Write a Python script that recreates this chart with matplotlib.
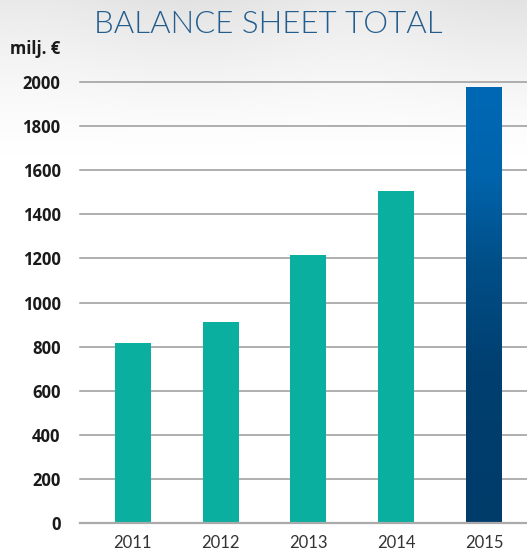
import numpy as np
import matplotlib.pyplot as plt
from matplotlib.colors import LinearSegmentedColormap

# data
years = ["2011", "2012", "2013", "2014", "2015"]
totals = [815, 910, 1215, 1505, 1980]
yticks = [0, 200, 400, 600, 800, 1000, 1200, 1400, 1600, 1800, 2000]

TEAL = "#0aaf9f"
TITLE_BLUE = "#235d8d"
GRID = "#9a9a9a"

fig = plt.figure(figsize=(5.27, 5.54), dpi=100)

# faint grey wash at the top, like the photo behind the original
bg = fig.add_axes([0, 0, 1, 1], zorder=-10)
h = np.linspace(0, 1, 300)[:, None]
wash = np.clip((h - 0.72) / 0.28, 0, 1) ** 1.3
xs = np.linspace(0, 1, 300)[None, :]
wash = wash * (0.75 + 0.25 * np.cos((xs - 0.35) * 5) ** 2)
rgb = 1 - 0.11 * wash
bg.imshow(np.dstack([rgb, rgb, rgb]), extent=[0, 1, 0, 1], origin="lower", aspect="auto")
bg.set_axis_off()

ax = fig.add_axes([0.1518, 0.0565, 0.8482, 0.7949])
ax.patch.set_alpha(0)
x = np.arange(len(years))
width = 0.41

bars = ax.bar(x, totals, width=width, color=TEAL, zorder=3)

# last bar gets a blue gradient
last = bars[-1]
last.set_facecolor("none")
cmap = LinearSegmentedColormap.from_list(
    "blue", [(0, "#003c6a"), (0.35, "#003f70"), (0.6, "#004f88"), (0.8, "#0064ac"), (1, "#0068b5")])
grad = np.linspace(0, 1, 256)[:, None]
im = ax.imshow(grad, cmap=cmap, origin="lower", aspect="auto", zorder=3,
               extent=[x[-1] - width / 2, x[-1] + width / 2, 0, totals[-1]])
im.set_clip_path(last)

ax.set_xlim(-0.602, 4.489)
ax.set_ylim(0, 2000)
ax.set_yticks(yticks)
ax.set_yticklabels([str(v) for v in yticks], fontfamily="Open Sans", fontweight="bold",
                   fontsize=12, color="#1a1a1a")
for v in yticks[1:]:
    ax.axhline(v, color=GRID, lw=1.1, zorder=1, clip_on=False)
ax.axhline(0, color="#aaaaaa", lw=1.6, zorder=4, clip_on=False)
ax.set_xticks(x)
ax.set_xticklabels(years, fontfamily="Lato", fontweight="normal", fontsize=12, color="#333333")
ax.tick_params(axis="y", length=0, pad=14)
ax.tick_params(axis="x", length=0, pad=9)
for s in ax.spines.values():
    s.set_visible(False)

fig.text(0.509, 0.955, "BALANCE SHEET TOTAL", ha="center", va="center",
         fontfamily="Lato", fontweight=300, fontsize=22.5, color=TITLE_BLUE)
fig.text(0.114, 0.912, "milj. €", ha="right", va="center",
         fontfamily="Open Sans", fontweight="bold", fontsize=12, color="#1a1a1a")

fig.savefig("out.png", dpi=100)
